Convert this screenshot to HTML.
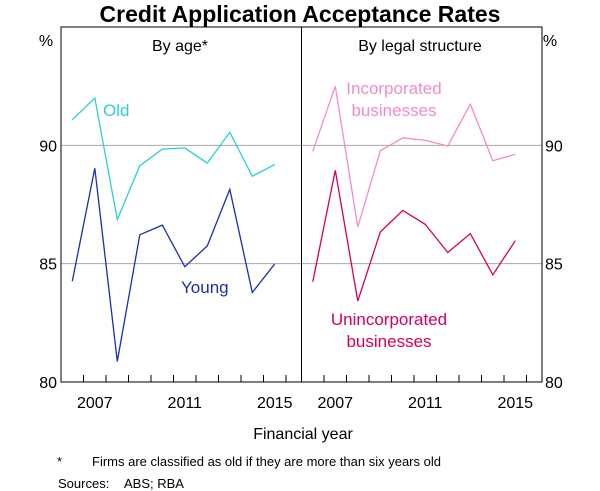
<!DOCTYPE html>
<html><head><meta charset="utf-8"><style>
body{margin:0;background:#fff;}
svg{display:block;font-family:"Liberation Sans",Arial,sans-serif;}
</style></head><body>
<svg id="chart" width="600" height="491" viewBox="0 0 600 491">
<text x="300" y="22" text-anchor="middle" font-size="23" font-weight="bold">Credit Application Acceptance Rates</text>
<g id="grid"></g>
<g id="series"></g>
<rect x="61" y="27" width="481" height="355" fill="none" stroke="#000" stroke-width="1"/>
<line x1="301.5" y1="27" x2="301.5" y2="382" stroke="#000"/>
<g id="axes" font-size="16"></g>
<text x="180" y="51" text-anchor="middle" font-size="16">By age*</text>
<text x="420" y="51" text-anchor="middle" font-size="16">By legal structure</text>
<text x="46" y="46" text-anchor="middle" font-size="16">%</text>
<text x="550" y="46" text-anchor="middle" font-size="16">%</text>
<text x="103" y="116" font-size="17" fill="#2ccfd6">Old</text>
<text x="181" y="293" font-size="17" fill="#1a2eb0">Young</text>
<text x="394" y="94" text-anchor="middle" font-size="17" fill="#f28cc8"><tspan x="394">Incorporated</tspan><tspan x="394" dy="22">businesses</tspan></text>
<text x="389" y="325" text-anchor="middle" font-size="17" fill="#d4005a"><tspan x="389">Unincorporated</tspan><tspan x="389" dy="22">businesses</tspan></text>
<text x="303" y="439" text-anchor="middle" font-size="16">Financial year</text>
<text x="57" y="466" font-size="13">*</text>
<text x="92" y="466" font-size="13">Firms are classified as old if they are more than six years old</text>
<text x="58" y="488" font-size="13">Sources:</text>
<text x="124" y="488" font-size="13">ABS; RBA</text>
</svg>
<script>
const years=[2006,2007,2008,2009,2010,2011,2012,2013,2014,2015];
const oldVals=[91.08,92.0,86.86,89.14,89.84,89.89,89.25,90.55,88.69,89.19];
const youngVals=[84.26,89.03,80.87,86.22,86.63,84.87,85.75,88.14,83.78,84.99];
const incVals=[89.75,92.5,86.55,89.77,90.32,90.21,89.97,91.74,89.35,89.62];
const unincVals=[84.24,88.94,83.42,86.34,87.25,86.66,85.47,86.27,84.53,85.97];
const yTicks=[80,85,90];
const xTickLabels=[2007,2011,2015];

const NS="http://www.w3.org/2000/svg";
const yTop=27,yBot=382,yMin=80,yMax=95;
function y(v){return yBot-(v-yMin)/(yMax-yMin)*(yBot-yTop);}
function x(yr,panel){return (panel?301.5:61)+11.25+(yr-2006)*22.5;}
function mk(tag,attrs,parent){const e=document.createElementNS(NS,tag);for(const k in attrs)e.setAttribute(k,attrs[k]);parent.appendChild(e);return e;}
const grid=document.getElementById('grid'),ser=document.getElementById('series'),ax=document.getElementById('axes');
yTicks.forEach(t=>{
  if(t>yMin){const g=mk('line',{x1:61,x2:542,y1:y(t),y2:y(t),stroke:'#aaa'},grid);
  
  }
  const l=mk('text',{x:57,y:y(t)+6,'text-anchor':'end'},ax);l.textContent=t;
  
  
  const r=mk('text',{x:545,y:y(t)+6},ax);r.textContent=t;
  
  
});
[0,1].forEach(p=>{
  for(let k=0;k<10;k++){const xx=(p?301.5:61)+22.5*(k+1);if(xx>=(p?542:301.5))break;
    const t=mk('line',{x1:xx,x2:xx,y1:yBot,y2:yBot-7,stroke:'#000'},ax);
    
    }
  xTickLabels.forEach(yr=>{const l=mk('text',{x:x(yr,p),y:408,'text-anchor':'middle'},ax);l.textContent=yr;
    
    });
});
function line(vals,panel,color,name){
  const pts=vals.map((v,i)=>x(years[i],panel).toFixed(1)+','+y(v).toFixed(1)).join(' ');
  const e=mk('polyline',{points:pts,fill:'none',stroke:color,'stroke-width':1.3},ser);
  
  
}
line(oldVals,0,'#2ccfd6','line-old');
line(youngVals,0,'#1a2eb0','line-young');
line(incVals,1,'#f28cc8','line-incorporated');
line(unincVals,1,'#d4005a','line-unincorporated');
</script>
</body></html>
